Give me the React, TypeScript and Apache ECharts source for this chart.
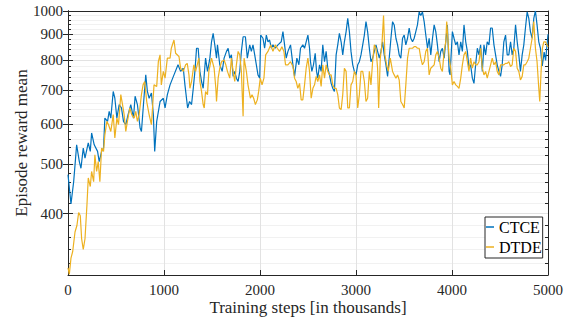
import React, { useEffect, useRef } from "react";
import * as echarts from "echarts";

const ctceSteps = [0, 31, 59, 76, 90, 118, 135, 159, 177, 211, 232, 246, 273, 308, 325, 350, 370, 384, 412, 429, 446, 471, 488, 509, 533, 557, 578, 602, 626, 654, 682, 699, 723, 751, 765, 786, 810, 827, 845, 869, 889, 903, 924, 959, 993, 1011, 1035, 1063, 1104, 1146, 1173, 1201, 1218, 1246, 1266, 1287, 1305, 1322, 1339, 1356, 1374, 1391, 1408, 1433, 1453, 1478, 1495, 1512, 1529, 1547, 1557, 1581, 1606, 1626, 1651, 1668, 1685, 1702, 1720, 1737, 1754, 1772, 1789, 1806, 1824, 1848, 1868, 1893, 1910, 1927, 1945, 1962, 1979, 1997, 2007, 2031, 2048, 2066, 2083, 2100, 2118, 2135, 2159, 2187, 2221, 2239, 2256, 2273, 2291, 2318, 2343, 2360, 2384, 2405, 2422, 2446, 2464, 2481, 2499, 2516, 2526, 2540, 2557, 2575, 2589, 2602, 2620, 2637, 2654, 2672, 2689, 2706, 2724, 2741, 2758, 2775, 2793, 2810, 2827, 2845, 2862, 2879, 2897, 2914, 2931, 2948, 2966, 2983, 3000, 3018, 3035, 3052, 3070, 3087, 3104, 3121, 3139, 3156, 3173, 3191, 3208, 3225, 3243, 3260, 3277, 3294, 3312, 3329, 3346, 3364, 3381, 3398, 3416, 3433, 3450, 3467, 3485, 3502, 3519, 3537, 3554, 3571, 3589, 3606, 3623, 3640, 3658, 3675, 3692, 3710, 3727, 3745, 3762, 3779, 3797, 3814, 3831, 3848, 3866, 3883, 3900, 3918, 3935, 3952, 3970, 3980, 4004, 4021, 4039, 4056, 4073, 4091, 4108, 4125, 4143, 4160, 4177, 4194, 4212, 4229, 4246, 4264, 4281, 4298, 4316, 4333, 4350, 4367, 4385, 4402, 4419, 4437, 4454, 4471, 4489, 4506, 4523, 4540, 4558, 4575, 4592, 4610, 4627, 4644, 4662, 4679, 4696, 4713, 4731, 4748, 4765, 4783, 4800, 4817, 4835, 4852, 4869, 4886, 4904, 4921, 4940, 4960, 4975, 5000];
const ctceReward = [477, 418, 462, 506, 546, 506, 491, 538, 514, 551, 530, 576, 546, 530, 506, 530, 538, 616, 607, 635, 616, 695, 674, 616, 655, 645, 607, 598, 626, 655, 616, 680, 655, 589, 580, 655, 749, 695, 674, 690, 626, 530, 607, 664, 674, 645, 685, 716, 749, 784, 761, 772, 716, 645, 664, 655, 705, 761, 845, 845, 761, 727, 705, 808, 761, 808, 870, 904, 858, 808, 858, 784, 761, 808, 833, 845, 808, 820, 744, 761, 738, 727, 761, 833, 890, 890, 808, 858, 833, 858, 820, 784, 749, 738, 897, 884, 845, 897, 870, 877, 845, 858, 845, 858, 870, 911, 858, 808, 833, 858, 784, 744, 808, 784, 845, 858, 845, 870, 897, 845, 795, 761, 784, 826, 761, 738, 784, 761, 858, 795, 833, 772, 749, 721, 705, 695, 820, 858, 904, 870, 820, 870, 911, 967, 911, 833, 784, 761, 749, 784, 795, 820, 858, 897, 953, 911, 845, 795, 808, 833, 858, 833, 808, 833, 870, 820, 784, 744, 808, 884, 953, 939, 884, 858, 820, 808, 884, 897, 858, 884, 926, 884, 870, 884, 911, 939, 996, 980, 996, 953, 897, 845, 884, 820, 884, 939, 911, 858, 795, 833, 845, 808, 870, 939, 761, 749, 911, 884, 858, 870, 820, 870, 833, 939, 870, 833, 772, 784, 738, 721, 784, 845, 820, 858, 761, 858, 820, 870, 858, 926, 926, 858, 820, 784, 761, 744, 784, 870, 897, 820, 820, 870, 820, 845, 939, 870, 820, 761, 820, 858, 926, 996, 967, 911, 884, 967, 1000, 939, 870, 845, 780, 830, 800, 900];

const dtdeSteps = [0, 14, 31, 49, 73, 93, 111, 128, 142, 159, 177, 197, 211, 232, 246, 267, 280, 298, 315, 332, 350, 370, 384, 405, 422, 446, 471, 488, 509, 526, 550, 568, 585, 602, 619, 644, 664, 689, 706, 723, 741, 765, 782, 799, 820, 845, 869, 896, 924, 941, 959, 972, 993, 1011, 1035, 1063, 1076, 1104, 1121, 1156, 1173, 1201, 1225, 1242, 1260, 1270, 1287, 1311, 1329, 1346, 1363, 1374, 1391, 1408, 1419, 1433, 1453, 1467, 1495, 1522, 1540, 1547, 1564, 1581, 1599, 1626, 1644, 1661, 1685, 1702, 1720, 1737, 1754, 1772, 1789, 1806, 1824, 1834, 1858, 1875, 1900, 1917, 1934, 1952, 1972, 1986, 2003, 2021, 2041, 2059, 2083, 2111, 2135, 2159, 2180, 2204, 2228, 2249, 2266, 2291, 2318, 2343, 2360, 2377, 2394, 2412, 2429, 2446, 2464, 2481, 2499, 2516, 2533, 2551, 2568, 2585, 2602, 2620, 2637, 2654, 2672, 2689, 2706, 2724, 2741, 2758, 2775, 2793, 2810, 2827, 2845, 2862, 2879, 2897, 2914, 2931, 2948, 2966, 2983, 3000, 3018, 3035, 3052, 3070, 3087, 3104, 3121, 3139, 3156, 3173, 3191, 3208, 3225, 3236, 3253, 3270, 3287, 3301, 3319, 3336, 3357, 3381, 3398, 3416, 3433, 3450, 3467, 3485, 3502, 3519, 3537, 3554, 3571, 3589, 3606, 3623, 3640, 3658, 3675, 3692, 3710, 3727, 3744, 3762, 3779, 3797, 3814, 3831, 3848, 3866, 3883, 3900, 3918, 3935, 3945, 3959, 3970, 3987, 4004, 4021, 4039, 4056, 4073, 4091, 4108, 4125, 4143, 4160, 4177, 4194, 4212, 4229, 4246, 4264, 4281, 4298, 4316, 4333, 4350, 4367, 4385, 4402, 4419, 4437, 4454, 4471, 4489, 4506, 4523, 4540, 4558, 4575, 4592, 4610, 4627, 4644, 4662, 4679, 4696, 4713, 4731, 4748, 4765, 4783, 4800, 4817, 4835, 4852, 4869, 4886, 4904, 4914, 4928, 4942, 4956, 4973, 5000];
const dtdeReward = [313, 304, 327, 337, 368, 379, 402, 396, 357, 340, 357, 415, 470, 452, 484, 462, 522, 484, 506, 462, 538, 530, 571, 607, 598, 580, 626, 563, 616, 598, 685, 655, 626, 580, 607, 645, 626, 616, 635, 607, 626, 685, 716, 727, 664, 626, 598, 716, 711, 795, 820, 716, 761, 738, 808, 808, 845, 877, 826, 814, 772, 761, 784, 789, 749, 705, 727, 784, 761, 784, 808, 727, 695, 655, 645, 695, 685, 761, 808, 772, 705, 664, 738, 772, 795, 801, 784, 761, 738, 808, 761, 727, 784, 833, 820, 761, 621, 808, 761, 716, 674, 685, 674, 655, 669, 695, 738, 716, 738, 820, 833, 858, 833, 858, 845, 833, 851, 833, 784, 784, 795, 778, 738, 727, 705, 721, 669, 669, 716, 772, 808, 761, 674, 705, 716, 744, 727, 749, 711, 784, 738, 784, 761, 749, 749, 716, 705, 705, 685, 645, 640, 685, 772, 761, 645, 645, 716, 727, 761, 749, 645, 685, 761, 761, 727, 664, 674, 761, 716, 795, 858, 845, 772, 645, 808, 858, 980, 820, 784, 761, 808, 761, 749, 738, 749, 732, 664, 655, 645, 716, 808, 845, 845, 845, 851, 851, 845, 845, 808, 784, 795, 833, 845, 749, 772, 778, 784, 820, 833, 808, 772, 761, 833, 870, 953, 870, 808, 772, 716, 727, 716, 711, 705, 738, 784, 820, 833, 795, 761, 808, 772, 795, 784, 784, 795, 845, 772, 749, 761, 738, 761, 784, 808, 784, 795, 761, 749, 784, 784, 784, 789, 789, 795, 778, 784, 845, 833, 772, 761, 732, 744, 784, 784, 795, 808, 845, 884, 953, 845, 795, 705, 664, 761, 845, 870, 870, 850];

const seriesNames = ["CTCE", "DTDE"];
const seriesColors = ["#0072BD", "#EDB120"];
const xTicks = [0, 1000, 2000, 3000, 4000, 5000];
const yMajorTicks = [400, 500, 600, 700, 800, 900, 1000];
const yMinorTicks = [320, 340, 360, 380, 420, 440, 460, 480, 520, 540, 560, 580, 620, 640, 660, 680, 720, 740, 760, 780, 820, 840, 860, 880, 920, 940, 960, 980];
const yMin = 303;
const yMax = 1000;
const xTitle = "Training steps [in thousands]";
const yTitle = "Episode reward mean";

const FONT = "Liberation Serif";
const AX = "#262626";
const plain = (v: number) => String(Math.round(v));

export default function App() {
  const ref = useRef<HTMLDivElement>(null);
  useEffect(() => {
    if (!ref.current) return;
    const chart = echarts.init(ref.current, undefined, { renderer: "svg" });
    const axisLine = { show: true, lineStyle: { color: AX, width: 1 } };
    const logY = (extra: any) => ({
      type: "log",
      logBase: 10,
      min: yMin,
      max: yMax,
      axisLine,
      axisLabel: { show: false },
      splitLine: { show: false },
      ...extra,
    });
    chart.setOption({
      animation: false,
      backgroundColor: "#ffffff",
      textStyle: { fontFamily: FONT },
      grid: { left: 68, right: 30, top: 11, bottom: 47, containLabel: false, outerBoundsMode: "none" },
      legend: {
        data: seriesNames,
        orient: "vertical",
        left: 485,
        top: 217,
        icon: "rect",
        itemWidth: 8,
        itemHeight: 1.5,
        itemGap: 4,
        padding: [2, 1, 3, 1],
        borderColor: AX,
        borderWidth: 1,
        borderRadius: 0,
        backgroundColor: "#ffffff",
        textStyle: { fontSize: 16, fontFamily: FONT, color: "#000" },
      },
      xAxis: [
        {
          type: "value",
          min: xTicks[0],
          max: xTicks[xTicks.length - 1],
          interval: 1000,
          position: "bottom",
          axisLine,
          axisTick: { inside: true, length: 5, lineStyle: { color: AX } },
          axisLabel: { margin: 7, fontSize: 15, color: AX, fontFamily: FONT, formatter: plain },
          splitLine: { show: true, lineStyle: { color: "#e2e2e2", width: 1 } },
          name: xTitle,
          nameLocation: "middle",
          nameGap: 24,
          nameMoveOverlap: false,
          nameTextStyle: { fontSize: 17, color: AX, fontFamily: FONT },
        },
        {
          type: "value",
          min: xTicks[0],
          max: xTicks[xTicks.length - 1],
          interval: 1000,
          position: "top",
          axisLine,
          axisTick: { inside: true, length: 5, lineStyle: { color: AX } },
          axisLabel: { show: false },
          splitLine: { show: false },
        },
      ],
      yAxis: [
        logY({
          position: "left",
          axisTick: { inside: true, length: 5, customValues: yMajorTicks, lineStyle: { color: AX } },
          axisLabel: { show: true, customValues: yMajorTicks, margin: 5, fontSize: 15, color: AX, fontFamily: FONT, formatter: plain },
          splitLine: { show: true, lineStyle: { color: "#e2e2e2", width: 1 } },
          name: yTitle,
          nameLocation: "middle",
          nameGap: 38,
          nameMoveOverlap: false,
          nameTextStyle: { fontSize: 17, color: AX, fontFamily: FONT },
        }),
        logY({
          position: "right",
          axisTick: { inside: true, length: 5, customValues: yMajorTicks, lineStyle: { color: AX } },
        }),
        logY({
          position: "left",
          axisTick: { inside: true, length: 3, customValues: yMinorTicks, lineStyle: { color: AX } },
          splitLine: { show: true, lineStyle: { color: "#f1f1f1", width: 1 } },
        }),
        logY({
          position: "right",
          axisTick: { inside: true, length: 3, customValues: yMinorTicks, lineStyle: { color: AX } },
        }),
      ],
      series: [
        {
          name: seriesNames[0],
          type: "line",
          xAxisIndex: 0,
          yAxisIndex: 0,
          showSymbol: false,
          symbol: "none",
          color: seriesColors[0],
          lineStyle: { width: 1.2, color: seriesColors[0] },
          data: ctceSteps.map((s, i) => [s, ctceReward[i]]),
          z: 3,
        },
        {
          name: seriesNames[1],
          type: "line",
          xAxisIndex: 0,
          yAxisIndex: 0,
          showSymbol: false,
          symbol: "none",
          color: seriesColors[1],
          lineStyle: { width: 1.2, color: seriesColors[1] },
          data: dtdeSteps.map((s, i) => [s, dtdeReward[i]]),
          z: 4,
        },
      ],
    });
    return () => chart.dispose();
  }, []);
  return (
    <div
      ref={ref}
      style={{ position: "fixed", left: 0, top: 0, width: 578, height: 322, background: "#fff" }}
    />
  );
}
